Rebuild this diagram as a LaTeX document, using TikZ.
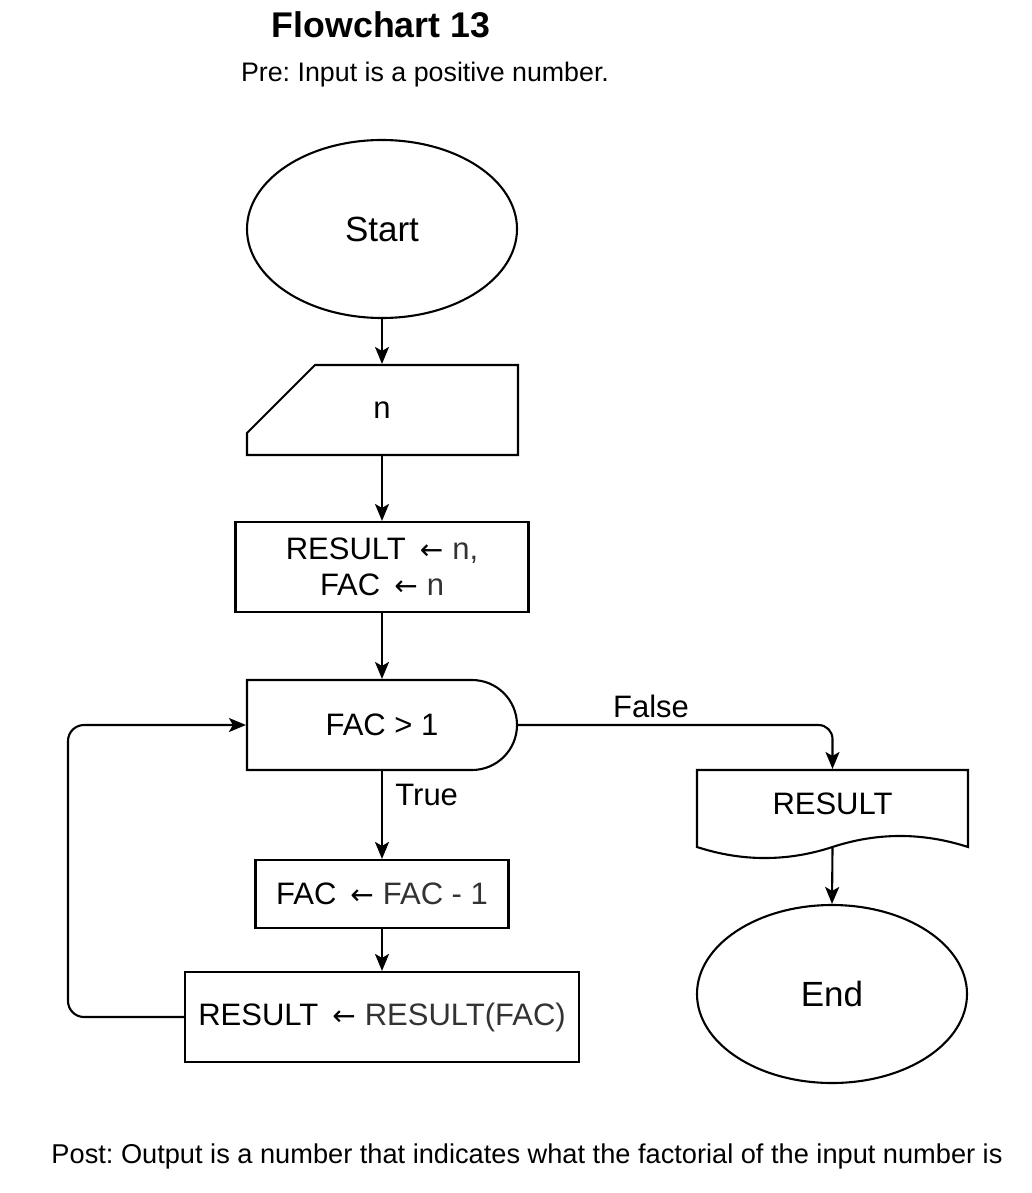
\documentclass[tikz,border=0pt]{standalone}
\usepackage{fontspec}
\setmainfont{Liberation Sans}
\newfontfamily\arrowfont{DejaVu Sans}
\usetikzlibrary{shapes.geometric,arrows.meta,calc}
\definecolor{txtgray}{HTML}{333333}
\newcommand{\myarrow}{\hspace{14pt}{\arrowfont\fontsize{28}{36}\selectfont ←}\hspace{9pt}}
\frenchspacing
\begin{document}
\begin{tikzpicture}[x=1pt,y=-1pt,
  line width=2.1pt,
  body/.style={font=\fontsize{31}{36}\selectfont},
  big/.style={font=\fontsize{35}{40}\selectfont},
  procbox/.style={draw,rectangle,inner sep=0pt,align=center,body},
  ghost/.style={rectangle,inner sep=0pt,align=center,body},
  term/.style={draw,ellipse,inner sep=0pt,minimum width=270pt,minimum height=178pt,big},
  arr/.style={-{Stealth[length=17pt,width=14pt,inset=4pt]}}
]
\useasboundingbox (0,0) rectangle (1032,1193);
\fill[white] (0,0) rectangle (1032,1193);

% titles
\node[font=\bfseries\fontsize{35.7}{40}\selectfont] (title) at (381,25) {Flowchart 13};
\node[font=\fontsize{26.8}{30}\selectfont] (pre) at (425,75) {Pre: Input is a positive number.};
\node[font=\fontsize{27.2}{30}\selectfont] (post) at (527,1156) {Post: Output is a number that indicates what the factorial of the input number is};

% start
\node[term] (start) at (382,229) {Start};

% manual input
\draw (247,455) -- (518,455) -- (518,365) -- (315,365) -- (247,433) -- cycle;
\node[ghost,minimum width=270pt,minimum height=90pt] (inp) at (382,410) {n};

% init
\node[procbox,minimum width=293pt,minimum height=90pt] (init) at (382,567)
  {RESULT\myarrow\textcolor{txtgray}{n,}\\ FAC\myarrow\textcolor{txtgray}{n}};

% condition (delay shape)
\draw (247,680) -- (472,680) .. controls (496.9,680) and (517,700.1) .. (517,725)
  .. controls (517,749.9) and (496.9,770) .. (472,770) -- (247,770) -- cycle;
\node[ghost,minimum width=270pt,minimum height=90pt] (cond) at (382,725) {FAC > 1};

% decrement
\node[procbox,minimum width=253pt,minimum height=68pt] (dec) at (382,894)
  {FAC\myarrow\textcolor{txtgray}{FAC - 1}};

% multiply
\node[procbox,minimum width=394pt,minimum height=90pt] (mul) at (382,1017)
  {RESULT\myarrow\textcolor{txtgray}{RESULT(FAC)}};

% document output
\draw (697,770) -- (968,770) -- (968,847)
  .. controls (922.7,832.3) and (877.3,832.3) .. (832.5,847)
  .. controls (787.3,861.7) and (742.3,861.7) .. (697,847) -- cycle;
\node[ghost,minimum width=271pt,minimum height=77pt] (out) at (832.5,808.5) {};
\node[body] (outtxt) at (832.5,804) {RESULT};

% end
\node[term] (end) at (832,994) {End};

% connectors
\draw[arr] (start.south) -- (inp.north);
\draw[arr] (inp.south) -- (init.north);
\draw[arr] (init.south) -- (cond.north);
\draw[arr] (cond.south) -- node[body,right,pos=0.27,xshift=9pt] (truelbl) {True} (dec.north);
\draw[arr] (dec.south) -- (mul.north);
\coordinate (loopc) at (68,725);
\draw[arr,rounded corners=16pt] (mul.west) -| (loopc) -- (cond.west);
\draw[arr,rounded corners=14pt] (cond.east) -| (out.north);
\node[body] (falselbl) at (651,706) {False};
\draw[arr] (out.south) -- (end.north);
\end{tikzpicture}
\end{document}
